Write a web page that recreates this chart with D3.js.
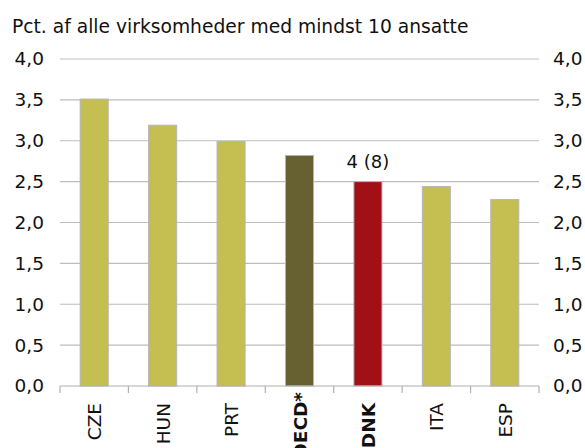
<!DOCTYPE html>
<html>
<head>
<meta charset="utf-8">
<script src="https://cdn.jsdelivr.net/npm/d3@7"></script>
<style>
  body { margin: 0; background: #fff; }
  text { font-family: "DejaVu Sans", Verdana, sans-serif; fill: #111; }
</style>
</head>
<body>
<div id="chart"></div>
<script>
// data
var countries = ['CZE', 'HUN', 'PRT', 'OECD*', 'DNK', 'ITA', 'ESP'];
var values = [3.51, 3.19, 2.99, 2.82, 2.50, 2.44, 2.28];
var barColors = ['#c4bf50', '#c4bf50', '#c4bf50', '#676030', '#a01016', '#c4bf50', '#c4bf50'];
var boldLabels = ['OECD*', 'DNK'];
var yTicks = [0, 0.5, 1, 1.5, 2, 2.5, 3, 3.5, 4];
var titleText = 'Pct. af alle virksomheder med mindst 10 ansatte';
var dnkNote = '4 (8)';

var W = 585, H = 448;
var pLeft = 60, pRight = 539, pTop = 59, pBottom = 386;

var svg = d3.select('#chart')
    .append('svg')
    .attr('width', W)
    .attr('height', H);

var da = d3.formatLocale({decimal: ',', thousands: '.', grouping: [3], currency: ['', ' kr']});
var fmt = da.format('.1f');

let x = d3.scaleBand()
    .domain(countries)
    .range([pLeft, pRight])
    .paddingInner(0.59)
    .paddingOuter(0.295);

let y = d3.scaleLinear()
    .domain([0, 4])
    .range([pBottom, pTop]);

// title
svg.append('text')
    .attr('x', 12)
    .attr('y', 33)
    .style('font-size', '18.7px')
    .text(titleText);

// gridlines
svg.append('g')
    .selectAll('line')
    .data(yTicks.filter(d => d > 0))
    .enter()
    .append('line')
    .attr('x1', pLeft)
    .attr('x2', pRight)
    .attr('y1', d => y(d))
    .attr('y2', d => y(d))
    .attr('stroke', '#bdbdbd')
    .attr('stroke-width', 1.2);

// y axis labels, both sides
var yL = d3.axisLeft(y).tickValues(yTicks).tickFormat(fmt).tickSize(0).tickPadding(16);
var yR = d3.axisRight(y).tickValues(yTicks).tickFormat(fmt).tickSize(0).tickPadding(14);

svg.append('g').attr('class', 'axis')
    .attr('transform', 'translate(' + pLeft + ',0)')
    .call(yL)
    .call(g => g.select('.domain').remove());
svg.append('g').attr('class', 'axis')
    .attr('transform', 'translate(' + pRight + ',0)')
    .call(yR)
    .call(g => g.select('.domain').remove());
svg.selectAll('.axis text')
    .style('font-size', '18.5px')
    .style('font-family', '"DejaVu Sans", Verdana, sans-serif')
    .attr('fill', '#111');

// bars
svg.append('g')
    .selectAll('rect')
    .data(values)
    .enter()
    .append('rect')
    .attr('x', (d, i) => x(countries[i]))
    .attr('y', d => y(d))
    .attr('width', x.bandwidth())
    .attr('height', d => y(0) - y(d))
    .attr('fill', (d, i) => barColors[i])
    .attr('stroke', '#b5b5b5')
    .attr('stroke-width', 1);

// x baseline with category ticks
var step = x.step();
var xg = svg.append('g');
xg.append('line')
    .attr('x1', pLeft).attr('x2', pRight)
    .attr('y1', pBottom).attr('y2', pBottom)
    .attr('stroke', '#b0b0b0')
    .attr('stroke-width', 1.2);
xg.selectAll('.tk')
    .data(d3.range(countries.length + 1))
    .enter()
    .append('line')
    .attr('x1', i => pLeft + i * step)
    .attr('x2', i => pLeft + i * step)
    .attr('y1', pBottom)
    .attr('y2', pBottom + 7)
    .attr('stroke', '#b0b0b0')
    .attr('stroke-width', 1.2);

// category labels, rotated
xg.selectAll('.lbl')
    .data(countries)
    .enter()
    .append('text')
    .attr('transform', d => 'translate(' + (x(d) + x.bandwidth() / 2 + 7) + ',' + (d == 'OECD*' ? 392 : 403) + ') rotate(-90)')
    .attr('text-anchor', 'end')
    .style('font-size', '18.5px')
    .style('font-weight', d => boldLabels.indexOf(d) >= 0 ? 'bold' : 'normal')
    .text(d => d);

// note above DNK
svg.append('text')
    .attr('x', x('DNK') + x.bandwidth() / 2)
    .attr('y', y(values[4]) - 14)
    .attr('text-anchor', 'middle')
    .style('font-size', '18px')
    .text(dnkNote);
</script>
</body>
</html>
